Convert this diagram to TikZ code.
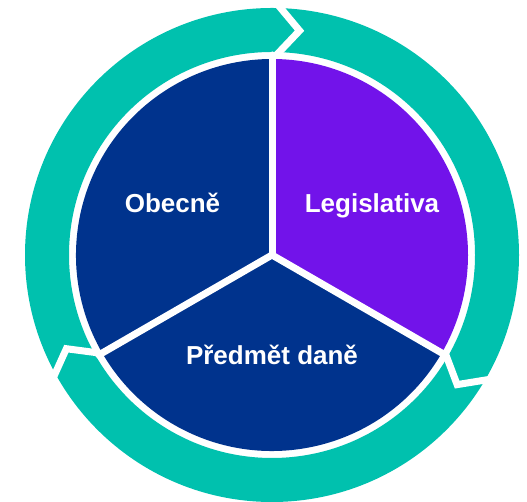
\documentclass[tikz,border=0pt]{standalone}
\usepackage{fontspec}
\setmainfont{Liberation Sans}
\definecolor{ringteal}{RGB}{0,193,174}
\definecolor{navyblue}{RGB}{0,51,141}
\definecolor{violetfill}{RGB}{114,19,234}
\begin{document}
\begin{tikzpicture}[x=1pt,y=1pt,
  lbl/.style={text=white,font=\fontsize{26}{30}\selectfont\bfseries,inner sep=0pt,anchor=base},
  spoke/.style={draw=white,line width=7pt,line cap=round},
  gapline/.style={draw=white,line width=7pt,line join=miter,miter limit=20}]
\useasboundingbox (0,0) rectangle (527,502);
\coordinate (c) at (272,247);
% ring
\fill[ringteal,even odd rule] (c) circle (247) (c) circle (203);
% pie sectors
\fill[violetfill] (c) -- ([shift={(90:196)}]c) arc (90:-30:196) -- cycle;
\fill[navyblue] (c) -- ([shift={(-30:196)}]c) arc (-30:-150:196) -- cycle;
\fill[navyblue] (c) -- ([shift={(210:196)}]c) arc (210:90:196) -- cycle;
% spokes
\draw[spoke] (c) -- ([shift={(90:200)}]c);
\draw[spoke] (c) -- ([shift={(-30:200)}]c);
\draw[spoke] (c) -- ([shift={(210:200)}]c);
% arrow joints
\draw[gapline] ([shift={(89:199)}]c) -- ([shift={(83:226)}]c) -- ([shift={(89:252)}]c);
\draw[gapline] ([shift={(-29.5:199)}]c) -- ([shift={(-35:226)}]c) -- ([shift={(-29.5:252)}]c);
\draw[gapline] ([shift={(209.5:199)}]c) -- ([shift={(204.5:226)}]c) -- ([shift={(209.5:252)}]c);
% labels
\node[lbl] (obecne) at (172.5,289) {Obecně};
\node[lbl] (legis) at (372,289) {Legislativa};
\node[lbl] (predmet) at (272,137) {Předmět daně};
\end{tikzpicture}
\end{document}
